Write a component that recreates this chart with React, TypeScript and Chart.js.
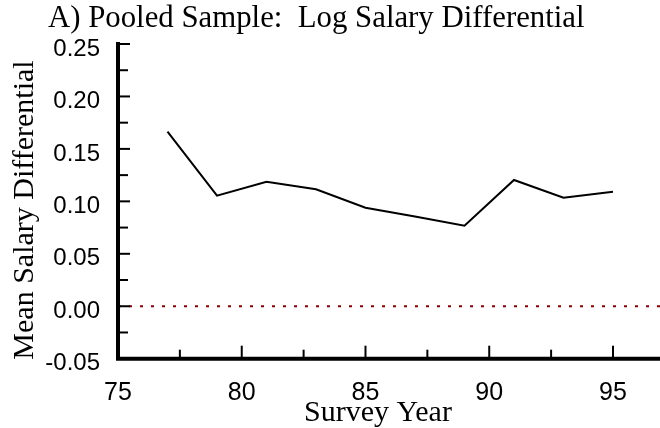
import React, { useEffect, useRef } from "react";
import { Chart, registerables } from "chart.js";

Chart.register(...registerables);

const surveyYears = [77, 79, 81, 83, 85, 87, 89, 91, 93, 95];
const salaryDiff = [0.1664, 0.1054, 0.1187, 0.1115, 0.0939, 0.0856, 0.0768, 0.1204, 0.1035, 0.1092];
const zeroLineYears = [75, 96.9];
const zeroLineValues = [0, 0];
const xTickValues = [75, 77.5, 80, 82.5, 85, 87.5, 90, 92.5, 95];
const yTickValues = [-0.05, -0.025, 0, 0.025, 0.05, 0.075, 0.1, 0.125, 0.15, 0.175, 0.2, 0.225, 0.25];

const titleText = "A) Pooled Sample:  Log Salary Differential";
const xTitleText = "Survey Year";
const yTitleText = "Mean Salary Differential";

const isMajorX = (v: number) => Math.abs(v / 5 - Math.round(v / 5)) < 1e-6;
const isMajorY = (v: number) => Math.round(v * 1000) % 50 === 0;

const decorPlugin = {
  id: "decor",
  afterDraw(chart: any) {
    const ctx = chart.ctx;
    const { left, right, top, bottom } = chart.chartArea;
    const xs = chart.scales.x;
    const ys = chart.scales.y;
    ctx.save();
    ctx.strokeStyle = "#000";
    ctx.lineWidth = 2;
    yTickValues.forEach((v) => {
      const py = ys.getPixelForValue(v);
      const len = isMajorY(v) ? 12 : 10;
      ctx.beginPath();
      ctx.moveTo(left, py);
      ctx.lineTo(left + len, py);
      ctx.stroke();
    });
    xTickValues.forEach((v) => {
      const px = xs.getPixelForValue(v);
      const len = isMajorX(v) ? 13 : 9;
      ctx.beginPath();
      ctx.moveTo(px, bottom);
      ctx.lineTo(px, bottom - len);
      ctx.stroke();
    });
    ctx.lineWidth = 4;
    ctx.beginPath();
    ctx.moveTo(left, top - 2);
    ctx.lineTo(left, bottom);
    ctx.lineTo(right, bottom);
    ctx.stroke();
    ctx.fillStyle = "#000";
    ctx.textBaseline = "alphabetic";
    ctx.textAlign = "left";
    ctx.font = '30.8px "Liberation Serif"';
    ctx.fillText(titleText, 48, 27);
    ctx.font = '30px "Liberation Serif"';
    ctx.textAlign = "center";
    ctx.fillText(xTitleText, 378, 421);
    ctx.translate(33, 210);
    ctx.rotate(-Math.PI / 2);
    ctx.fillText(yTitleText, 0, 0);
    ctx.restore();
  },
};

export default function App() {
  const ref = useRef<HTMLCanvasElement>(null);
  useEffect(() => {
    if (!ref.current) return;
    const chart = new Chart(ref.current, {
      type: "line",
      data: {
        datasets: [
          {
            data: surveyYears.map((x, i) => ({ x, y: salaryDiff[i] })),
            borderColor: "#000",
            borderWidth: 2,
            pointRadius: 0,
            tension: 0,
            fill: false,
          },
          {
            data: zeroLineYears.map((x, i) => ({ x, y: zeroLineValues[i] })),
            borderColor: "#8b0000",
            borderWidth: 2,
            borderDash: [3, 8],
            pointRadius: 0,
            fill: false,
          },
        ],
      },
      options: {
        responsive: false,
        animation: false,
        layout: { padding: { top: 44, left: 0, right: 0, bottom: 0 } },
        plugins: { legend: { display: false }, title: { display: false }, tooltip: { enabled: false } },
        scales: {
          x: {
            type: "linear",
            min: 75,
            max: 96.9,
            grid: { display: false, drawTicks: false },
            border: { display: false },
            afterBuildTicks: (scale: any) => {
              scale.ticks = xTickValues.map((v) => ({ value: v }));
            },
            afterFit: (scale: any) => {
              scale.height = 69.3;
            },
            ticks: {
              autoSkip: false,
              maxRotation: 0,
              padding: 19,
              color: "#000",
              font: { family: "Liberation Sans", size: 25 },
              callback: (v: any) => (isMajorX(Number(v)) ? String(v) : ""),
            },
          },
          y: {
            type: "linear",
            min: -0.05,
            max: 0.25,
            grid: { display: false, drawTicks: false },
            border: { display: false },
            afterBuildTicks: (scale: any) => {
              scale.ticks = yTickValues.map((v) => ({ value: v }));
            },
            afterFit: (scale: any) => {
              scale.width = 118;
            },
            ticks: {
              autoSkip: false,
              padding: 18,
              labelOffset: 5,
              color: "#000",
              font: { family: "Liberation Sans", size: 24 },
              callback: (v: any) => (isMajorY(Number(v)) ? Number(v).toFixed(2) : ""),
            },
          },
        },
      },
      plugins: [decorPlugin],
    });
    return () => chart.destroy();
  }, []);
  return (
    <div style={{ position: "absolute", left: 0, top: 0, width: 660, height: 428, background: "#fff" }}>
      <canvas ref={ref} width={660} height={428} />
    </div>
  );
}
